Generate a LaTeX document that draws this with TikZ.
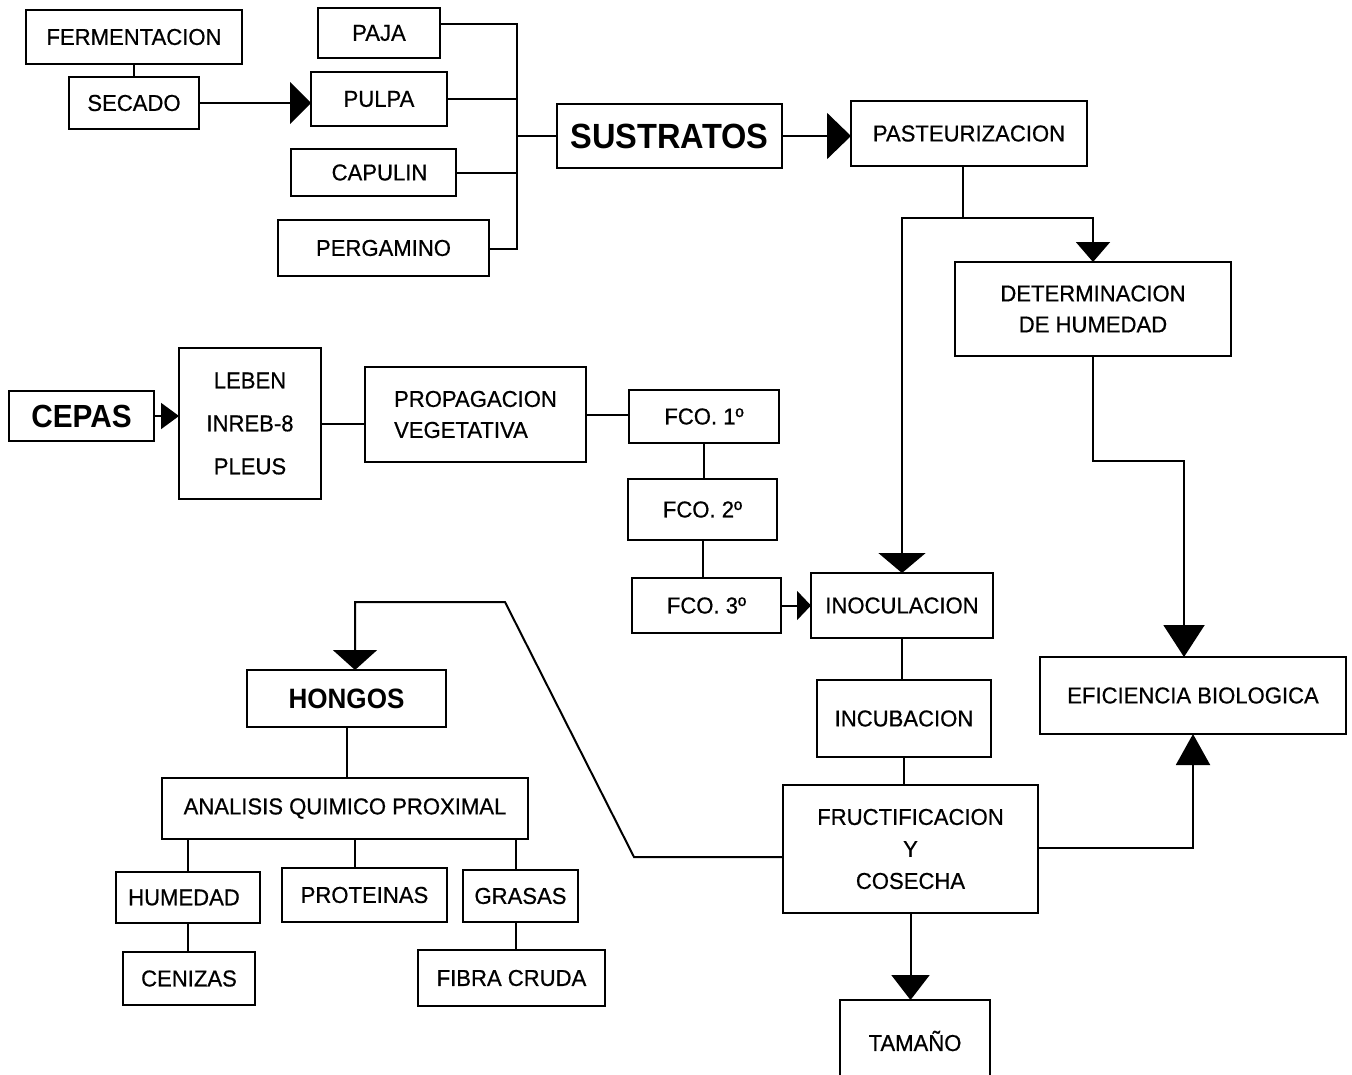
\documentclass[tikz,border=0pt]{standalone}
\usepackage{fontspec}
\setmainfont{Liberation Sans}[FakeStretch=0.96,FakeBold=0.6]
\newfontfamily\headfont{Liberation Sans}[FakeStretch=0.93]
\usetikzlibrary{arrows.meta}
\newcommand\bx[7][]{\node[box,#1,minimum width={(#4-#2)*1pt},minimum height={(#5-#3)*1pt}] (#7) at ({(#2+#4)/2},{(#3+#5)/2}) {#6};}
\begin{document}
\begin{tikzpicture}[x=1pt,y=-1pt,
  box/.style={draw,line width=2pt,inner sep=0pt,outer sep=0pt,align=center,font=\fontsize{23}{28}\selectfont},
  big/.style={font=\headfont\bfseries\fontsize{#1}{#1}\selectfont},
  conn/.style={line width=2pt},
  tri/.style 2 args={conn,-{Triangle[length=#1,width=#2]}}]
\useasboundingbox (0,0) rectangle (1352,1074);
\clip (0,0) rectangle (1352,1074);
\fill[white] (0,0) rectangle (1352,1074);
% boxes: x1 y1 x2 y2 text name
\bx{26}{10}{242}{64}{FERMENTACION}{ferm}
\bx{69}{77}{199}{129}{SECADO}{secado}
\bx{318}{8}{440}{58}{PAJA}{paja}
\bx{311}{72}{447}{126}{PULPA}{pulpa}
\bx{291}{149}{456}{196}{\hspace*{12pt}CAPULIN}{capulin}
\bx{278}{220}{489}{276}{PERGAMINO}{pergamino}
\bx[big=35]{557}{104}{782}{168}{SUSTRATOS}{sustratos}
\bx{851}{101}{1087}{166}{PASTEURIZACION}{pasteur}
\bx[font=\fontsize{23}{31}\selectfont]{955}{262}{1231}{356}{DETERMINACION\\DE HUMEDAD}{determ}
\bx[big=32]{9}{391}{154}{441}{CEPAS}{cepas}
\bx[font=\fontsize{23}{43}\selectfont]{179}{348}{321}{499}{LEBEN\\INREB-8\\PLEUS}{leben}
\bx[align=left,font=\fontsize{23}{31}\selectfont]{365}{367}{586}{462}{PROPAGACION\\VEGETATIVA}{propag}
\bx{629}{390}{779}{443}{FCO. 1º}{fco1}
\bx{628}{479}{777}{540}{FCO. 2º}{fco2}
\bx{632}{578}{781}{633}{FCO. 3º}{fco3}
\bx{811}{573}{993}{638}{INOCULACION}{inoc}
\bx{817}{680}{991}{757}{INCUBACION}{incub}
\bx[font=\fontsize{23}{32}\selectfont]{783}{785}{1038}{913}{FRUCTIFICACION\\Y\\COSECHA}{fruct}
\bx{1040}{657}{1346}{734}{EFICIENCIA BIOLOGICA}{efic}
\bx[big=28]{247}{670}{446}{727}{HONGOS}{hongos}
\bx{162}{778}{528}{839}{ANALISIS QUIMICO PROXIMAL}{analisis}
\bx{116}{872}{260}{923}{HUMEDAD\hspace*{8pt}}{humedad}
\bx{282}{868}{447}{922}{PROTEINAS}{proteinas}
\bx{463}{870}{578}{922}{GRASAS}{grasas}
\bx{123}{952}{255}{1005}{CENIZAS}{cenizas}
\bx{418}{950}{605}{1006}{FIBRA CRUDA}{fibra}
\bx{840}{1000}{990}{1082}{TAMAÑO}{tamano}
% helper coordinates
\coordinate (bt) at (517,24);
\coordinate (bb) at (517,249);
\coordinate (pj) at (963,218);
\coordinate (fe) at (1193,848);
\coordinate (dk) at (1184,461);
\coordinate (h1) at (634,857);
\coordinate (h2) at (505,602);
\coordinate (h3) at (355,602);
% connectors
\draw[conn] (ferm.south) -- (secado.north);
\draw[tri={21pt}{42pt}] (secado.east) -- (secado.east -| pulpa.west);
\draw[conn] (paja.east |- bt) -- (bt) -- (bb) -- (pergamino.east |- bb);
\draw[conn] (pulpa.east) -- (pulpa.east -| bt);
\draw[conn] (capulin.east) -- (capulin.east -| bt);
\draw[conn] (sustratos.west) -- (sustratos.west -| bt);
\draw[tri={24pt}{46pt}] (sustratos.east) -- (sustratos.east -| pasteur.west);
\draw[conn] (pasteur.south -| pj) -- (pj);
\draw[tri={20pt}{34pt}] (pj) -- (pj -| determ.north) -- (determ.north);
\draw[tri={20pt}{47pt}] (pj) -- (pj -| inoc.north) -- (inoc.north);
\draw[tri={32pt}{41pt}] (determ.south) -- (determ.south |- dk) -- (dk) -- (efic.north -| dk);
\draw[tri={18pt}{26pt}] (cepas.east) -- (cepas.east -| leben.west);
\draw[conn] (leben.east) -- (leben.east -| propag.west);
\draw[conn] (propag.east) -- (propag.east -| fco1.west);
\draw[conn] (fco1.south) -- (fco1.south |- fco2.north);
\draw[conn] (fco2.south) -- (fco2.south |- fco3.north);
\draw[tri={14pt}{29pt}] (fco3.east) -- (fco3.east -| inoc.west);
\draw[conn] (inoc.south) -- (inoc.south |- incub.north);
\draw[conn] (incub.south) -- (incub.south |- fruct.north);
\draw[tri={31pt}{34pt}] (fruct.east |- fe) -- (fe) -- (efic.south -| fe);
\draw[tri={25pt}{38pt}] (fruct.south) -- (fruct.south |- tamano.north);
\draw[tri={20pt}{44pt}] (fruct.west |- h1) -- (h1) -- (h2) -- (h3) -- (hongos.north -| h3);
\draw[conn] (hongos.south) -- (hongos.south |- analisis.north);
\draw[conn] (analisis.south -| humedad.north) -- (humedad.north);
\draw[conn] ([xshift=-10pt]proteinas.north |- analisis.south) -- ([xshift=-10pt]proteinas.north);
\draw[conn] ([xshift=-5pt]grasas.north |- analisis.south) -- ([xshift=-5pt]grasas.north);
\draw[conn] (humedad.south) -- (humedad.south |- cenizas.north);
\draw[conn] ([xshift=-5pt]grasas.south) -- ([xshift=-5pt]grasas.south |- fibra.north);
\end{tikzpicture}
\end{document}
